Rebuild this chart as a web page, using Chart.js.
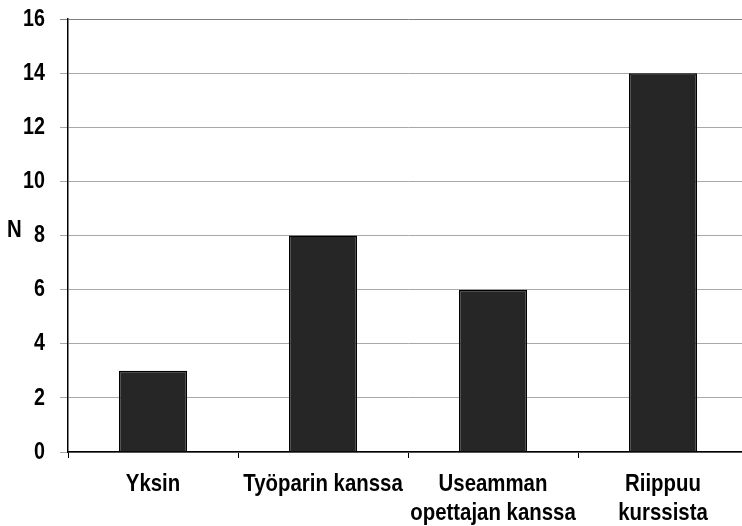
<!DOCTYPE html>
<html><head><meta charset="utf-8">
<script src="https://cdn.jsdelivr.net/npm/chart.js@4"></script>
<style>
html,body{margin:0;padding:0;overflow:hidden;background:#fff;}
#wrap{width:748px;height:526px;position:relative;}
</style></head>
<body><div id="wrap"><canvas id="c"></canvas></div>
<script>
const categories = [["Yksin"], ["Työparin kanssa"], ["Useamman", "opettajan kanssa"], ["Riippuu", "kurssista"]];
const values = [3, 8, 6, 14];
const yTicks = [0, 2, 4, 6, 8, 10, 12, 14, 16];
const axisTitle = "N";

const FONT = "bold 24px 'Liberation Sans', Arial, sans-serif";

function narrowText(ctx, text, x, y, align, sx) {
  ctx.save();
  ctx.translate(x, y);
  ctx.scale(sx, 1);
  ctx.textAlign = align;
  ctx.fillText(text, 0, 0);
  ctx.restore();
}

const narrowLabels = {
  id: 'narrowLabels',
  afterDraw(chart) {
    const ctx = chart.ctx;
    const xs = chart.scales.x, ys = chart.scales.y;
    ctx.save();
    ctx.font = FONT;
    ctx.fillStyle = '#000';
    ctx.textBaseline = 'middle';
    yTicks.forEach(v => narrowText(ctx, String(v), 45, ys.getPixelForValue(v), 'right', 0.82));
    ctx.textBaseline = 'alphabetic';
    categories.forEach((lines, i) => {
      const cx = xs.getPixelForValue(i);
      lines.forEach((t, j) => narrowText(ctx, t, cx, 491 + j * 29, 'center', 0.85));
    });
    narrowText(ctx, axisTitle, 7, 237, 'left', 0.85);
    ctx.restore();
  }
};

new Chart(document.getElementById('c'), {
  type: 'bar',
  data: {
    labels: categories,
    datasets: [{
      data: values,
      backgroundColor: '#262626',
      borderColor: '#000',
      borderWidth: 1.5,
      categoryPercentage: 1,
      barPercentage: 0.4
    }]
  },
  options: {
    responsive: true,
    maintainAspectRatio: false,
    animation: false,
    layout: { padding: { top: 19, left: 0, right: 0, bottom: 0 } },
    plugins: { legend: { display: false }, tooltip: { enabled: false } },
    scales: {
      x: {
        offset: true,
        grid: { offset: true, drawOnChartArea: false, tickLength: 6, color: '#000', lineWidth: 1 },
        border: { color: '#000', width: 1.5 },
        ticks: { display: false },
        afterFit(s) { s.height = 74; }
      },
      y: {
        min: 0, max: 16,
        afterBuildTicks(s) { s.ticks = yTicks.map(v => ({ value: v })); },
        grid: { tickLength: 8, lineWidth: 1,
                color: c => (c.tick && c.tick.value === 16) ? '#808080' : '#a8a8a8' },
        border: { color: '#000', width: 1.5 },
        ticks: { display: false },
        afterFit(s) { s.width = 68; }
      }
    }
  },
  plugins: [narrowLabels]
});
</script>
</body></html>
